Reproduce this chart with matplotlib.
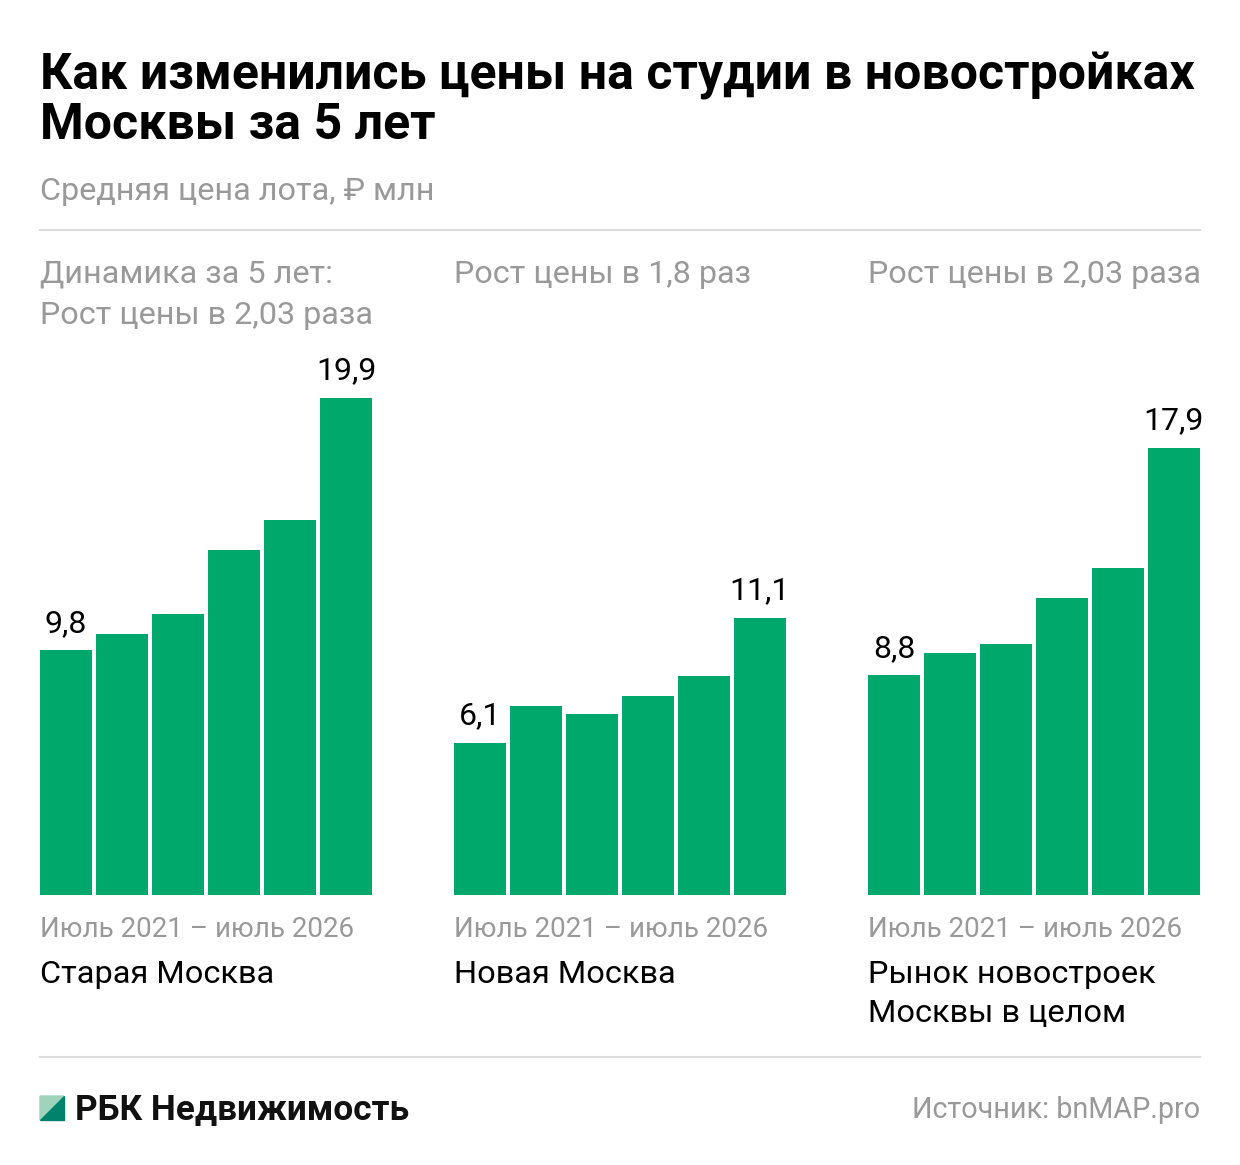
import matplotlib
matplotlib.use("Agg")
import matplotlib.pyplot as plt
from matplotlib.patches import Polygon

plt.rcParams['font.family'] = ['Roboto', 'DejaVu Sans']

# data (₽ млн, июль 2021 - июль 2026)
old_moscow = [9.8, 10.44, 11.24, 13.8, 15.0, 19.9]
new_moscow = [6.1, 7.57, 7.25, 7.97, 8.77, 11.1]
all_moscow = [8.8, 9.67, 10.06, 11.9, 13.1, 17.9]

panel_names = ["Старая Москва", "Новая Москва", "Рынок новостроек\nМосквы в целом"]
panel_notes = ["Динамика за 5 лет:\nРост цены в 2,03 раза", "Рост цены в 1,8 раз",
               "Рост цены в 2,03 раза"]
first_labels = ["9,8", "6,1", "8,8"]
last_labels = ["19,9", "11,1", "17,9"]
period = "Июль 2021 – июль 2026"

W, H = 1240, 1165
GREEN = '#00a86b'
GREY = '#999999'

fig = plt.figure(figsize=(W / 100, H / 100), dpi=100)


def fx(x):
    return x / W


def fy(y):
    return 1 - y / H


fig.text(fx(40), fy(89), "Как изменились цены на студии в новостройках",
         fontsize=36, fontweight='bold', color='black', va='baseline')
fig.text(fx(40), fy(139), "Москвы за 5 лет",
         fontsize=36, fontweight='bold', color='black', va='baseline')
fig.text(fx(40), fy(200), "Средняя цена лота, ₽ млн", fontsize=23.3, color=GREY, va='baseline')

fig.add_artist(plt.Line2D([fx(40), fx(1200)], [fy(230), fy(230)], color='#dddddd', lw=1.5))
fig.add_artist(plt.Line2D([fx(40), fx(1200)], [fy(1057), fy(1057)], color='#dddddd', lw=1.5))

series = [old_moscow, new_moscow, all_moscow]
lefts = [40, 454, 868]
base = 895
ymax = 20.0
px_per_unit = 25.0

for k, vals in enumerate(series):
    left = lefts[k]
    top = base - ymax * px_per_unit
    ax = fig.add_axes([fx(left), fy(base), 332 / W, (base - top) / H])
    xs = list(range(len(vals)))
    ax.bar(xs, vals, width=52 / 56, color=GREEN, linewidth=0)
    ax.set_xlim(-26 / 56, 5 + 26 / 56)
    ax.set_ylim(0, ymax)
    ax.axis('off')
    ax.annotate(first_labels[k], (0, vals[0]), xytext=(0, 13), textcoords='offset points',
                ha='center', va='baseline', fontsize=23, color='black')
    ax.annotate(last_labels[k], (5, vals[-1]), xytext=(0, 13), textcoords='offset points',
                ha='center', va='baseline', fontsize=23, color='black')

    note_lines = panel_notes[k].split("\n")
    for j, line in enumerate(note_lines):
        fig.text(fx(left), fy(283 + j * 41), line, fontsize=23.3, color=GREY, va='baseline')
    fig.text(fx(left), fy(937), period, fontsize=20, color=GREY, va='baseline')
    for j, line in enumerate(panel_names[k].split("\n")):
        fig.text(fx(left), fy(983 + j * 39), line, fontsize=23.4, color='black', va='baseline')

# logo
fig.add_artist(Polygon([[fx(40), fy(1096)], [fx(64), fy(1096)], [fx(40), fy(1120)]],
                       closed=True, color='#9fd3bb', transform=fig.transFigure))
fig.add_artist(Polygon([[fx(64), fy(1096)], [fx(64), fy(1120)], [fx(40), fy(1120)]],
                       closed=True, color='#00826d', transform=fig.transFigure))
fig.text(fx(75), fy(1119), "РБК Недвижимость", fontsize=25.3, fontweight='bold',
         color='#111111', va='baseline')
fig.text(fx(1200), fy(1118), "Источник: bnMAP.pro", fontsize=20.7, color=GREY,
         va='baseline', ha='right')

fig.savefig("out.png", dpi=100, facecolor='white')
